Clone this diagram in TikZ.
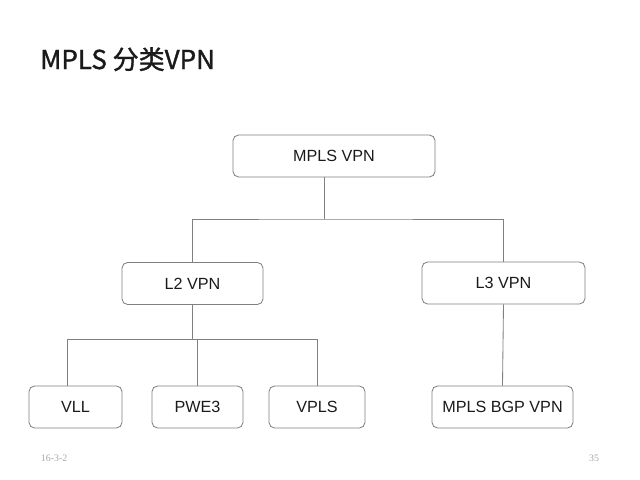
\documentclass[tikz,border=0pt]{standalone}
\usepackage{fontspec}
\setmainfont{Liberation Sans}
\newfontfamily\cjk[FakeBold=1.3]{Noto Sans CJK SC}
\newfontfamily\footfont{Liberation Serif}
\definecolor{linegray}{HTML}{808080}
\definecolor{textdark}{HTML}{1A1A1A}

\begin{document}
\begin{tikzpicture}[
    x=0.025cm, y=-0.025cm,
    box/.style={rectangle, rounded corners=4pt, draw=linegray, line width=0.6pt, minimum height=1.05cm, text=textdark, font=\fontsize{11.5}{14}\selectfont},
    link/.style={draw=linegray, line width=0.6pt},
    foot/.style={font=\footfont\fontsize{7}{8}\selectfont, text=gray!70}
]
\useasboundingbox (0,0) rectangle (640,480);
% Title
\node[anchor=base west, inner sep=0pt, text=textdark, font=\cjk\fontsize{18.5}{22}\selectfont] (title) at (40,69) {MPLS 分类VPN};
% Root
\node[box, minimum width=5.05cm] (mpls) at (334,156) {MPLS VPN};
% Second level
\node[box, minimum width=3.525cm] (l2) at (192.5,283.5) {L2 VPN};
\node[box, minimum width=4.075cm] (l3) at (503.5,283) {L3 VPN};
% Leaves
\node[box, minimum width=2.325cm] (vll) at (75.5,407) {VLL};
\node[box, minimum width=2.275cm] (pwe) at (197.5,407) {PWE3};
\node[box, minimum width=2.4cm] (vpls) at (317,407) {VPLS};
\node[box, minimum width=3.525cm] (bgp) at (502.5,407) {MPLS BGP VPN};

% Bus lines
\coordinate (bus1) at (324,219);
\coordinate (b2w) at (67,339);
\coordinate (b2e) at (317,339);

\draw[link] (mpls.south -| bus1) -- (bus1);
\draw[link] (l2.north) |- (bus1) -| (l3.north);
\draw[link] (l2.south) -- (l2.south |- b2w);
\draw[link] (vll.north -| b2w) -- (b2w) -- (b2e) -- (vpls.north);
\draw[link] (pwe.north) -- (pwe.north |- b2w);
\draw[link] (l3.south) -- (bgp.north);

% Footer
\node[foot, anchor=west] (date) at (36,458) {16-3-2};
\node[foot, anchor=east] (page) at (604,458) {35};
\end{tikzpicture}
\end{document}
